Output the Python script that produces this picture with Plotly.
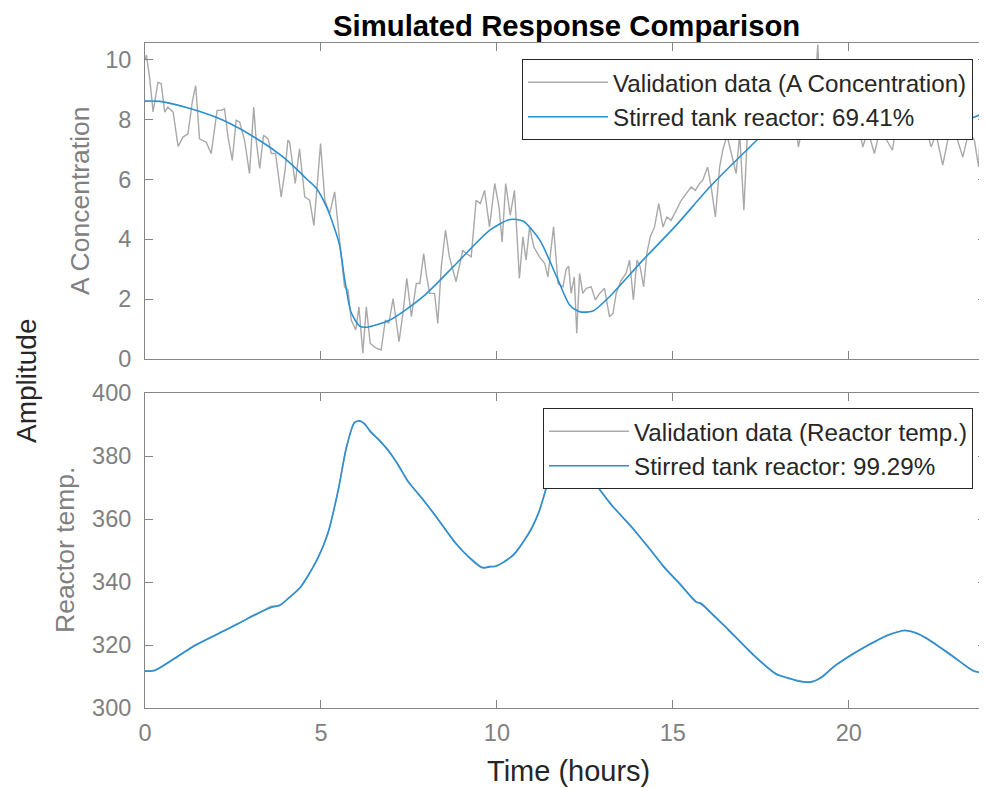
import plotly.graph_objects as go

# ---------------- data: A Concentration (top panel) ----------------
conc_hours = [
    0.00, 0.04, 0.13, 0.23, 0.37, 0.46, 0.56, 0.65, 0.80, 0.94, 1.08, 1.22, 1.35, 1.44, 1.55, 1.74, 1.88, 2.05, 2.17, 2.26,
    2.36, 2.48, 2.59, 2.69, 2.83, 2.97, 3.09, 3.16, 3.26, 3.37, 3.50, 3.59, 3.71, 3.87, 3.98,
    4.06, 4.11, 4.27, 4.39, 4.54, 4.68, 4.80, 4.99, 5.11, 5.25, 5.39, 5.53, 5.67, 5.77, 5.86, 5.99, 6.08, 6.19, 6.29, 6.40,
    6.57, 6.71, 6.83, 6.93, 7.05, 7.22, 7.33, 7.44, 7.57, 7.71, 7.81, 7.92,
    7.99, 8.09, 8.23, 8.32, 8.42, 8.54, 8.65, 8.84, 8.94, 9.03, 9.13, 9.27, 9.41, 9.53, 9.65, 9.79, 9.94, 10.06, 10.15, 10.25,
    10.38, 10.50, 10.64, 10.74, 10.83, 10.93, 11.05, 11.21, 11.36, 11.45, 11.61, 11.74, 11.88,
    11.97, 12.04, 12.11, 12.20, 12.27, 12.35, 12.44, 12.54, 12.68, 12.80, 12.92, 13.06, 13.20, 13.30, 13.39, 13.53, 13.67, 13.77, 13.88, 13.98,
    14.07, 14.17, 14.26, 14.36, 14.48, 14.60, 14.72, 14.83, 14.95, 15.10, 15.24, 15.38, 15.52, 15.64, 15.76,
    15.85, 15.99, 16.09, 16.21, 16.33, 16.42, 16.54, 16.66, 16.80, 16.90, 17.02, 17.11, 17.28, 17.47, 17.66, 17.76,
    17.90, 18.00, 18.10, 18.20, 18.35, 18.47, 18.57, 18.67, 18.80, 18.95, 19.05, 19.12, 19.20, 19.35, 19.50, 19.65, 19.80, 19.87, 19.95, 20.10,
    20.25,
    20.40, 20.54, 20.73, 20.87, 21.00, 21.24, 21.33, 21.45, 21.60, 21.75, 21.90, 22.05, 22.20, 22.34, 22.48, 22.67, 22.86, 23.05, 23.24, 23.41,
    23.57, 23.69, 23.81, 23.90,
]
conc_measured = [
    9.97, 10.15, 9.40, 8.25, 9.24, 9.19, 8.24, 8.41, 8.24, 7.10, 7.41, 7.52, 8.63, 9.13, 7.35, 7.24, 6.86, 8.30, 8.30, 8.35,
    7.41, 6.63, 7.97, 7.91, 7.30, 6.19, 8.41, 7.30, 6.36, 7.47, 7.35, 6.86, 6.86, 5.41, 6.30,
    7.30, 7.24, 5.86, 7.02, 5.41, 5.30, 4.46, 7.19, 5.30, 4.86, 5.58, 3.97, 2.41, 2.30, 1.30, 0.97, 1.74, 0.19, 1.74, 0.52,
    0.36, 0.30, 1.30, 1.19, 2.02, 0.58, 1.52, 2.69, 1.41, 2.52, 2.52, 3.52,
    2.86, 2.19, 2.19, 1.19, 3.08, 4.30, 3.41, 2.58, 3.08, 3.63, 3.52, 3.41, 5.30, 5.19, 5.63, 4.41, 5.86, 5.08, 3.91, 5.86,
    4.80, 5.63, 2.69, 4.08, 3.30, 4.41, 3.74, 3.41, 3.19, 2.74, 4.41, 2.52, 2.41,
    3.00, 3.10, 2.19, 2.74, 0.86, 2.86, 2.19, 2.36, 2.41, 1.97, 2.19, 2.36, 1.41, 1.52, 2.19, 2.63, 2.86, 3.30, 1.97, 3.30,
    3.08, 2.41, 3.52, 4.08, 4.41, 5.19, 4.41, 4.74, 4.63, 4.97, 5.30, 5.52, 5.74, 5.63, 5.86,
    5.97, 6.41, 5.74, 4.74, 6.41, 6.97, 7.47, 6.86, 6.19, 7.52, 4.97, 7.30, 7.52, 7.63, 7.74, 7.52,
    8.20, 7.90, 8.60, 8.00, 8.80, 7.90, 7.08, 7.69, 8.50, 8.20, 9.20, 10.50, 8.40, 8.90, 8.10, 8.60, 8.30, 9.50, 8.00, 8.40,
    7.90,
    7.08, 7.63, 6.86, 7.58, 7.47, 6.97, 7.63, 8.00, 7.70, 8.30, 7.80, 8.10, 7.70, 7.08, 7.52, 6.47, 7.58, 7.47, 6.74, 7.58,
    7.30, 6.41, 9.30, 9.63,
]
conc_model_hours = [
    0.0, 0.43, 1.28, 2.22, 3.17, 3.92, 4.3, 4.6, 4.87, 5.15, 5.39, 5.53, 5.67, 5.86, 6.1,
    6.3, 6.96, 7.9, 8.85, 9.8, 10.37, 10.75, 11.22, 11.7, 12.07, 12.35, 12.73, 13.2, 14.15, 15.1,
    16.05, 17.0, 17.76, 18.3, 19.0, 19.7, 20.4, 21.0, 21.6, 22.2, 22.8, 23.4, 23.9,
]
conc_model = [
    8.61, 8.60, 8.36, 7.97, 7.36, 6.75, 6.35, 6.00, 5.70, 5.10, 4.35, 3.80, 2.70, 1.55, 1.10,
    1.06, 1.30, 2.08, 3.19, 4.30, 4.66, 4.60, 3.97, 2.74, 1.80, 1.58, 1.60, 2.08, 3.30, 4.47,
    5.74, 6.86, 7.69, 7.95, 8.05, 8.00, 7.85, 7.72, 7.63, 7.63, 7.78, 8.00, 8.24,
]

# ---------------- data: Reactor temperature (bottom panel) ----------------
temp_hours = [
    0.0, 0.26, 0.8, 1.4, 2.0, 2.61, 3.1, 3.6, 3.82, 4.1, 4.43, 4.89, 5.19, 5.49, 5.72,
    5.95, 6.1, 6.25, 6.4, 6.65, 6.93, 7.2, 7.47, 7.85, 8.22, 8.83, 9.2, 9.59, 9.8, 9.97,
    10.2, 10.5, 10.96, 11.2, 11.41, 11.56, 11.85, 12.1, 12.35, 12.7, 13.23, 13.84, 14.3, 14.75, 15.2,
    15.66, 15.8, 16.2, 16.57, 17.33, 17.94, 18.3, 18.54, 18.92, 19.2, 19.6, 20.1, 20.67, 21.1, 21.58,
    21.9, 22.19, 22.94, 23.55, 23.9,
]
temp_measured = [
    311.6, 312.0, 315.3, 319.9, 323.0, 326.7, 329.3, 332.3, 332.4, 335.2, 338.4, 347.3, 355.0, 369.3, 382.3,
    390.8, 391.0, 390.3, 387.6, 385.3, 381.3, 377.3, 371.8, 367.0, 361.4, 352.5, 347.8, 344.4, 345.0, 344.9,
    346.5, 348.8, 356.7, 362.2, 370.3, 374.8, 382.3, 384.7, 383.2, 373.0, 365.0, 357.1, 351.3, 344.6, 339.6,
    333.5, 333.4, 328.8, 325.1, 316.3, 310.9, 309.3, 308.8, 308.1, 309.7, 313.2, 317.2, 320.5, 323.2, 324.5,
    324.0, 322.1, 316.7, 311.6, 311.2,
]
temp_model = [
    311.8, 311.8, 315.5, 319.7, 323.2, 326.5, 329.5, 332.0, 332.6, 335.0, 338.6, 347.0, 355.3, 369.0, 382.6,
    390.5, 391.2, 390.0, 387.9, 385.0, 381.6, 377.0, 372.1, 366.8, 361.6, 352.2, 348.0, 344.6, 344.8, 345.1,
    346.3, 349.0, 356.4, 362.5, 370.0, 375.0, 382.0, 385.0, 383.0, 373.2, 364.8, 357.4, 351.0, 344.8, 339.3,
    333.8, 333.1, 329.0, 324.9, 316.5, 310.7, 309.5, 308.6, 308.3, 309.5, 313.4, 317.0, 320.7, 323.0, 324.7,
    323.8, 322.3, 316.5, 311.8, 311.0,
]

conc_labels = ["Validation data (A Concentration)", "Stirred tank reactor: 69.41%"]
temp_labels = ["Validation data (Reactor temp.)", "Stirred tank reactor: 99.29%"]
x_ticks = [0, 5, 10, 15, 20]

GRAY = "#a9a9a9"
BLUE = "#2b8fd2"
FONT = "Liberation Sans, Arial, Helvetica, sans-serif"

# the page body has an 8 px default margin, so the figure is shrunk by 8 px and
# every page-pixel position below is converted with that offset
PAGE_W, PAGE_H, OFF = 987, 788, 8
W, H = PAGE_W - OFF, PAGE_H - OFF


def fx(px):
    return (px - OFF) / W


def fy(py):
    return 1 - (py - OFF) / H


fig = go.Figure()
fig.add_trace(go.Scatter(x=conc_hours, y=conc_measured, mode="lines", name=conc_labels[0],
                         line=dict(color=GRAY, width=1.4), xaxis="x", yaxis="y", legend="legend"))
fig.add_trace(go.Scatter(x=conc_model_hours, y=conc_model, mode="lines", name=conc_labels[1],
                         line=dict(color=BLUE, width=1.6, shape="spline", smoothing=0.7),
                         xaxis="x", yaxis="y", legend="legend"))
fig.add_trace(go.Scatter(x=temp_hours, y=temp_measured, mode="lines", name=temp_labels[0],
                         line=dict(color=GRAY, width=1.4, shape="spline", smoothing=0.7),
                         xaxis="x2", yaxis="y2", legend="legend2"))
fig.add_trace(go.Scatter(x=temp_hours, y=temp_model, mode="lines", name=temp_labels[1],
                         line=dict(color=BLUE, width=1.6, shape="spline", smoothing=0.7),
                         xaxis="x2", yaxis="y2", legend="legend2"))

axis_common = dict(showline=True, linecolor="#868686", linewidth=1, mirror="ticks",
                   ticks="inside", ticklen=8, tickcolor="#868686", tickwidth=1,
                   showgrid=False, zeroline=False, automargin=False,
                   tickfont=dict(family=FONT, size=23.5, color="#808080"))

legend_common = dict(xref="container", yref="container", xanchor="right", yanchor="top",
                     bgcolor="white", bordercolor="#262626", borderwidth=1,
                     font=dict(family=FONT, size=24.2, color="#262626"), itemwidth=80,
                     tracegroupgap=0)

X0, X1 = fx(145), fx(986)
fig.update_layout(
    width=W, height=H, margin=dict(l=0, r=0, t=0, b=0, autoexpand=False),
    paper_bgcolor="white", plot_bgcolor="white",
    font=dict(family=FONT, size=23.5, color="#262626"),
    showlegend=True,
    xaxis=dict(domain=[X0, X1], anchor="y", range=[0, 23.9], tickvals=x_ticks,
               showticklabels=False, **axis_common),
    yaxis=dict(domain=[fy(359), fy(43)], anchor="x", range=[0, 10.55], dtick=2, tick0=0,
               ticklabelstandoff=8, **axis_common),
    xaxis2=dict(domain=[X0, X1], anchor="y2", range=[0, 23.9], tickvals=x_ticks,
                ticklabelstandoff=4, **axis_common),
    yaxis2=dict(domain=[fy(708), fy(393)], anchor="x2", range=[300, 400], dtick=20, tick0=300,
                ticklabelstandoff=8, **axis_common),
    legend=dict(x=fx(973), y=fy(59), **legend_common),
    legend2=dict(x=fx(973), y=fy(408), **legend_common),
)


def ann(text, px, py, size, color, angle=0, bold=False, yanchor="middle"):
    fig.add_annotation(text=f"<b>{text}</b>" if bold else text, x=fx(px), y=fy(py),
                       xref="paper", yref="paper", xanchor="center", yanchor=yanchor,
                       showarrow=False, textangle=angle, borderpad=0,
                       font=dict(family=FONT, size=size, color=color))


ann("Simulated Response Comparison", 566, 8, 29.3, "#000000", bold=True, yanchor="top")
ann("A Concentration", 80, 201, 26.5, "#808080", angle=-90)
ann("Reactor temp.", 65, 550, 26.5, "#808080", angle=-90)
ann("Amplitude", 26, 381, 28, "#262626", angle=-90)
ann("Time (hours)", 568, 771, 29, "#262626")

fig.write_html("out.html")
